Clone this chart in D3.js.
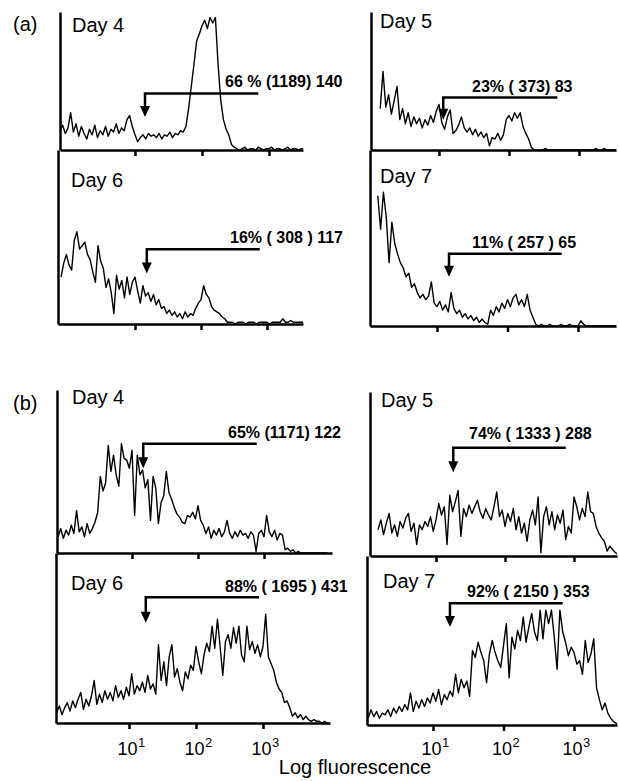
<!DOCTYPE html>
<html>
<head>
	<meta charset="utf-8">
	<script src="https://d3js.org/d3.v7.min.js"></script>
	<style>
		body { margin: 0; background: #fff; }
		svg { font-family: "Liberation Sans", Arial, Helvetica, sans-serif; }
	</style>
</head>
<body>
	<svg width="619" height="781"></svg>
	<script>

		// channel centres, in decades of fluorescence (log10)
		const logChannel = d3.range(103).map(i => -0.12 + i * 0.04);

		const dayLabels = ["Day 4", "Day 5", "Day 6", "Day 7", "Day 4", "Day 5", "Day 6", "Day 7"];
		const gateTexts = [
		"66 % (1189) 140",
		"23% ( 373) 83",
		"16% ( 308 ) 117",
		"11% ( 257 ) 65",
		"65% (1171) 122",
		"74% ( 1333 ) 288",
		"88% ( 1695 ) 431",
		"92% ( 2150 ) 353"
		];
		// gate marker, fluorescence at the arrow and at the end of the bar
		const gateFrom = [14.1, 11.5, 15.1, 14.8, 14.8, 17.8, 17.8, 17.4];
		const gateTo = [692, 490, 776, 589, 776, 759, 871, 692];
		const tickValues = [10, 100, 1000];

		// counts per channel (relative, 100 = full panel height)
		const day4a = [
		14,18,12,16,27,13,19,10,17,12,
		8,15,11,18,9,14,11,17,10,15,
		13,19,12,16,14,22,25,17,11,6,
		9,11,8,12,10,11,9,12,8,11,
		10,13,9,12,11,14,13,17,30,46,
		62,79,84,90,94,88,96,92,96,62,
		36,22,15,11,4,2,1,0,1,2,
		0,1,1,0,2,1,0,1,1,2,
		0,1,1,0,1,2,0,1,1,0,
		1,1,2,1,0,1,1,0,1,1,
		1,0,1
		];
		const day5a = [
		null,null,null,null,null,null,null,30,57,31,
		40,26,36,46,22,30,19,27,17,24,
		19,23,16,22,18,25,20,28,33,20,
		15,24,29,12,14,18,24,16,13,16,
		11,15,10,13,9,12,3,9,8,12,
		7,11,22,25,21,27,23,27,17,12,
		8,2,0,0,0,0,1,0,0,0,
		0,0,0,0,0,0,0,0,0,0,
		0,0,0,0,1,0,0,1,0,0,
		0,0,0,0,0,0,0,0,0,0,
		0,0,0
		];
		const day6a = [
		27,35,40,34,31,48,53,43,45,47,
		40,37,30,24,45,36,32,21,26,18,
		6,28,20,25,15,27,17,24,27,19,
		12,22,16,18,13,17,11,14,9,10,
		6,8,5,7,4,6,3,7,4,6,
		5,9,12,14,22,17,15,10,8,7,
		6,4,3,1,1,1,0,1,1,1,
		0,1,1,1,0,1,1,1,1,0,
		1,1,1,1,3,1,1,2,1,1,
		1,1,1,0,1,1,1,1,1,1,
		1,1,1
		];
		const day7a = [
		null,null,null,null,null,null,null,74,55,76,
		62,36,59,47,41,36,33,28,30,22,
		24,19,16,18,15,17,25,13,11,14,
		9,12,8,19,10,7,9,5,7,4,
		6,3,5,2,4,2,1,9,6,11,
		8,13,10,15,11,16,18,12,15,11,
		18,9,5,1,0,1,0,0,1,0,
		0,0,1,0,0,1,0,0,0,3,
		1,0,0,0,0,0,0,0,0,0,
		0,0,0,0,0,0,0,0,0,0,
		0,0,0
		];
		const day4b = [
		10,15,9,14,11,17,12,26,13,16,
		10,18,12,15,19,25,47,38,43,66,
		50,60,48,41,67,58,57,52,63,23,
		60,48,51,40,45,20,47,40,18,31,
		35,50,37,33,28,24,22,19,18,23,
		22,25,21,29,20,17,12,16,9,14,
		11,15,10,13,20,12,9,13,10,14,
		11,12,9,13,11,1,12,14,10,23,
		13,10,14,8,12,11,2,3,1,2,
		0,1,0,0,0,0,0,0,0,0,
		0,0,0
		];
		const day5b = [
		null,null,null,null,null,null,null,16,22,13,
		20,26,14,19,12,21,17,23,26,15,
		20,7,19,16,21,18,24,15,22,32,
		25,30,7,37,27,33,40,12,29,24,
		31,26,30,34,27,23,29,25,22,30,
		39,24,28,18,26,21,29,16,24,14,
		20,9,22,28,19,36,2,24,30,19,
		27,16,25,20,28,10,18,14,36,30,
		22,29,24,39,27,26,18,14,11,9,
		3,6,4,2,1,0,0,0,0,0,
		0,0,0
		];
		const day6b = [
		8,6,10,5,9,12,7,13,9,14,
		18,8,14,10,16,25,11,17,12,19,
		14,18,13,22,15,19,14,21,16,29,
		17,22,19,24,18,28,20,23,17,46,
		25,36,22,39,46,27,32,24,19,30,
		26,34,31,45,36,29,40,47,42,57,
		44,61,45,28,48,52,44,56,47,57,
		40,36,57,43,48,41,46,39,45,64,
		39,35,31,24,20,18,12,13,9,4,
		6,3,5,2,4,2,1,2,1,1,
		0,1,0
		];
		const day7b = [
		null,null,null,null,null,4,9,5,8,4,
		7,6,9,5,10,7,11,8,12,9,
		19,8,14,10,15,11,16,13,19,14,
		21,12,18,15,20,17,30,19,27,22,
		26,17,44,40,49,43,38,25,42,50,
		43,38,34,47,60,28,52,45,56,50,
		64,49,58,66,55,50,68,51,68,60,
		68,52,33,68,55,49,41,46,43,36,
		38,30,50,37,42,51,22,15,9,13,
		7,4,2,1,0,0,0,0,0,0,
		0,0,0
		];
		const counts = [day4a, day5a, day6a, day7a, day4b, day5b, day6b, day7b];

		// panel geometry (pixels) and gate placement (in count units)
		const layout = [
		{x0: 60,  x1: 303, t1: 135, t3: 269, top: 12,  base: 150, gateY: 41, tipY: 24, textDx: 165, textDy: -6, labelDx: 12, labelY: 32},
		{x0: 371, x1: 616, t1: 439, t3: 579, top: 12,  base: 150, gateY: 38, tipY: 22, textDx: 101, textDy: -6, labelDx: 9,  labelY: 28},
		{x0: 58,  x1: 303, t1: 135, t3: 267, top: 150, base: 324, gateY: 43, tipY: 29, textDx: 172, textDy: -6, labelDx: 13, labelY: 187},
		{x0: 370, x1: 616, t1: 437, t3: 578, top: 150, base: 326, gateY: 41, tipY: 28, textDx: 102, textDy: -6, labelDx: 10, labelY: 183},
		{x0: 57,  x1: 332, t1: 132, t3: 264, top: 390, base: 553, gateY: 67, tipY: 52, textDx: 171, textDy: -6, labelDx: 15, labelY: 404},
		{x0: 370, x1: 617, t1: 436, t3: 574, top: 392, base: 556, gateY: 66, tipY: 51, textDx: 99,  textDy: -9, labelDx: 11, labelY: 407},
		{x0: 56,  x1: 330, t1: 129, t3: 263, top: 553, base: 723, gateY: 74, tipY: 59, textDx: 169, textDy: -5, labelDx: 15, labelY: 590},
		{x0: 367, x1: 617, t1: 433, t3: 574, top: 556, base: 725, gateY: 72, tipY: 58, textDx: 100, textDy: -6, labelDx: 16, labelY: 588}
		];

		const svg = d3.select("svg");

		layout.forEach((p, k) => {
			const x = d3.scaleLog().domain([10, 1000]).range([p.t1, p.t3]);
			x.domain([x.invert(p.x0), x.invert(p.x1)]).range([p.x0, p.x1]);
			const y = d3.scaleLinear().domain([0, 100]).range([p.base, p.top]);

			const g = svg.append("g");

			g.append("clipPath").attr("id", "clip" + k)
			.append("rect")
			.attr("x", p.x0).attr("y", p.top - 4)
			.attr("width", p.x1 - p.x0).attr("height", p.base - p.top + 4);

			const pts = logChannel.map((c, i) => ({f: Math.pow(10, c), v: counts[k][i]}));

			g.append("path")
			.datum(pts)
			.attr("clip-path", `url(#clip${k})`)
			.attr("fill", "none")
			.attr("stroke", "#000")
			.attr("stroke-width", 1.4)
			.attr("stroke-linejoin", "round")
			.attr("d", d3.line()
			.defined(d => d.v != null)
			.x(d => x(d.f))
			.y(d => y(d.v)));

			// axes
			const xa = g.append("g")
			.attr("transform", `translate(0,${p.base})`)
			.call(d3.axisBottom(x).tickValues(tickValues).tickSize(6).tickSizeOuter(0).tickFormat(""));
			xa.select(".domain").attr("stroke-width", 2.5);
			xa.selectAll(".tick line").attr("stroke-width", 2.5);

			const ya = g.append("g")
			.attr("transform", `translate(${p.x0},0)`)
			.call(d3.axisLeft(y).tickValues([]).tickSizeOuter(0));
			ya.select(".domain").attr("stroke-width", 2.5);

			// gate bar and arrow
			const gx0 = x(gateFrom[k]), gx1 = x(gateTo[k]);
			const gy = y(p.gateY), ty = y(p.tipY);
			g.append("path")
			.attr("d", `M${gx1},${gy}H${gx0}V${ty - 8}`)
			.attr("fill", "none")
			.attr("stroke", "#000")
			.attr("stroke-width", 2.5);
			g.append("path")
			.attr("d", `M${gx0 - 5},${ty - 11}L${gx0 + 5},${ty - 11}L${gx0},${ty}Z`)
			.attr("fill", "#000");

			g.append("text")
			.attr("x", p.x0 + p.textDx)
			.attr("y", gy + p.textDy)
			.attr("font-size", 16)
			.attr("font-weight", "bold")
			.style("white-space", "pre")
			.attr("xml:space", "preserve")
			.text(gateTexts[k]);

			g.append("text")
			.attr("x", p.x0 + p.labelDx)
			.attr("y", p.labelY)
			.attr("font-size", 20)
			.text(dayLabels[k]);

			// decade labels under the bottom row
			if (k >= 6) {
				tickValues.forEach(t => {
					g.append("text")
					.attr("x", x(t) - 1.5)
					.attr("y", 755)
					.attr("text-anchor", "middle")
					.attr("font-size", 18)
					.text("10");
					g.append("text")
					.attr("x", x(t) + 9)
					.attr("y", 747)
					.attr("font-size", 13)
					.text(Math.round(Math.log10(t)));
				});
			}
		});

		svg.append("text").attr("x", 13).attr("y", 31).attr("font-size", 20).text("(a)");
		svg.append("text").attr("x", 13).attr("y", 410).attr("font-size", 20).text("(b)");

		svg.append("text")
		.attr("x", 355)
		.attr("y", 774)
		.attr("text-anchor", "middle")
		.attr("font-size", 20)
		.text("Log fluorescence");
	</script>
</body>
</html>
